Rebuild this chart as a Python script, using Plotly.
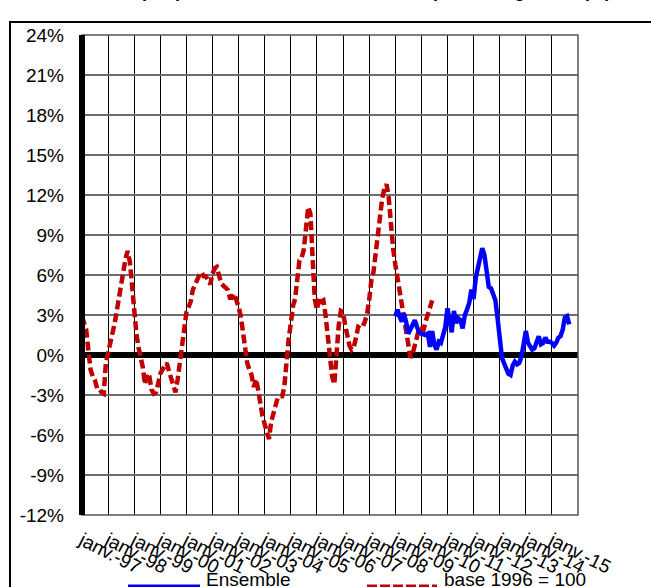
import pandas as pd
import plotly.graph_objects as go

# ---- data ----
red_start = "1997-01-01"
red_values = [
    2.9, 2.3, 1.9, 0.3, -1.1, -1.6, -1.9, -2.5, -2.5, -2.8, -2.9, -0.6,
    0.3, 0.9, 1.6, 2.3, 3.3, 4.2, 4.9, 6.1, 7.2, 7.8, 7.0, 5.3,
    3.2, 1.6, 0.6, -0.2, -0.9, -2.2, -1.4, -1.6, -2.6, -2.9, -2.8, -2.2,
    -1.4, -1.1, -0.8, -0.6, -1.2, -1.8, -2.4, -2.8, -1.8, -0.6, 0.8, 2.3,
    3.2, 3.6, 4.0, 4.9, 5.3, 5.6, 6.0, 6.2, 5.9, 5.9, 5.6, 5.3,
    6.1, 6.5, 6.6, 5.8, 5.4, 5.2, 5.0, 4.9, 4.3, 4.3, 4.6, 4.2,
    3.6, 2.9, 1.6, 0.3, -0.6, -1.1, -1.5, -2.4, -1.8, -2.6, -3.7, -4.6,
    -5.2, -5.7, -6.3, -5.0, -4.3, -3.6, -3.2, -3.1, -3.1, -2.4, -0.2, 1.2,
    2.4, 3.7, 4.2, 5.6, 7.1, 7.3, 7.9, 9.5, 11.1, 10.6, 6.9, 4.2,
    3.4, 4.3, 4.0, 4.1, 3.0, 1.6, 0.2, -1.6, -2.2, 0.6, 2.2, 3.3,
    3.2, 2.2, 1.3, 0.7, 0.4, 0.6, 1.3, 2.1, 2.0, 2.1, 2.5, 3.0,
    4.1, 5.6, 6.2, 7.6, 9.4, 10.5, 11.7, 12.5, 12.8, 11.8, 9.6, 8.0,
    6.8, 5.8, 5.2, 4.2, 3.2, 2.0, 0.8, -0.2, 0.1, 0.7, 1.1, 2.0,
    2.0, 1.9, 2.5, 3.0, 3.4, 4.1,
]
blue_start = "2009-01-01"
blue_values = [
    2.9, 3.4, 2.9, 2.5, 3.1, 2.5, 1.6, 2.0, 2.2, 2.6, 2.1, 1.7,
    1.6, 1.5, 1.5, 1.6, 0.6, 1.8, 0.8, 0.4, 1.0, 0.9, 1.5, 2.1,
    3.5, 2.5, 1.7, 3.3, 2.4, 2.75, 2.6, 2.0, 3.0, 3.4, 3.9, 4.9,
    4.2, 5.8, 6.5, 7.2, 8.0, 7.5, 6.3, 5.1, 5.0, 4.6, 4.1, 2.8,
    0.8, -0.2, -0.6, -1.0, -1.4, -1.5, -0.8, -0.5, -0.7, -0.6, -0.1, 0.8,
    1.8, 0.9, 0.6, 0.4, 0.5, 0.9, 1.4, 0.8, 0.9, 1.3, 1.0, 1.0,
    0.9, 0.7, 0.9, 1.3, 1.4, 1.9, 2.8, 2.9, 2.3,
]
tick_years = list(range(1997, 2017))
tick_labels = ["janv.-%02d" % (y % 100) for y in range(1997, 2016)] + [""]
y_ticks = list(range(-12, 25, 3))
legend_names = ["Ensemble", "base 1996 = 100"]
title_text = "Graphique 3 : Évolution annuelle des prix du logement (%)"

red_x = pd.date_range(red_start, periods=len(red_values), freq="MS")
blue_x = pd.date_range(blue_start, periods=len(blue_values), freq="MS")

W, H = 651, 587
L, R, T, B = 82, 73, 35, 72
PW, PH = W - L - R, H - T - B


def px(xp):
    return (xp - L) / PW


def py(yp):
    return (H - B - yp) / PH


FONT = "Liberation Sans, Arial, sans-serif"
RED = "#C00000"
BLUE = "#0000FF"

fig = go.Figure()
fig.add_trace(go.Scatter(x=red_x, y=red_values, mode="lines", name=legend_names[1],
                         line=dict(color=RED, width=4.5, dash="9px,4px"), showlegend=False))
fig.add_trace(go.Scatter(x=blue_x, y=blue_values, mode="lines", name=legend_names[0],
                         line=dict(color=BLUE, width=4.5), showlegend=False))

shapes = [
    # plot-area border
    dict(type="rect", xref="paper", yref="paper", x0=0, x1=1, y0=0, y1=1,
         line=dict(color="#555555", width=1.5), layer="above"),
    # thick left axis
    dict(type="line", xref="paper", yref="paper", x0=0, x1=0, y0=0, y1=1,
         line=dict(color="black", width=6), layer="above"),
    # outer frame
    dict(type="rect", xref="paper", yref="paper", x0=px(10), x1=px(653), y0=py(600), y1=py(22),
         line=dict(color="black", width=2)),
    # legend samples
    dict(type="line", xref="paper", yref="paper", x0=px(128), x1=px(200), y0=py(587), y1=py(587),
         line=dict(color=BLUE, width=5)),
    dict(type="line", xref="paper", yref="paper", x0=px(367), x1=px(437), y0=py(587), y1=py(587),
         line=dict(color=RED, width=5, dash="10px,3px")),
]

annotations = [
    dict(text=title_text, xref="paper", yref="paper", x=px(613), y=py(2.5),
         xanchor="right", yanchor="bottom", showarrow=False,
         font=dict(family=FONT, size=18, color="black", weight="bold")),
    dict(text=legend_names[0], xref="paper", yref="paper", x=px(204), y=py(567),
         xanchor="left", yanchor="top", showarrow=False,
         font=dict(family=FONT, size=19, color="black")),
    dict(text=legend_names[1], xref="paper", yref="paper", x=px(442), y=py(567),
         xanchor="left", yanchor="top", showarrow=False,
         font=dict(family=FONT, size=19, color="black")),
]

fig.update_layout(
    width=W, height=H,
    margin=dict(l=L, r=R, t=T, b=B, pad=0),
    paper_bgcolor="white", plot_bgcolor="white",
    shapes=shapes, annotations=annotations,
    showlegend=False,
)
fig.update_xaxes(
    type="date",
    range=[pd.Timestamp("1997-01-01"), pd.Timestamp("2016-01-01")],
    tickvals=[pd.Timestamp("%d-01-01" % y) for y in tick_years],
    ticktext=tick_labels,
    tickangle=27,
    tickfont=dict(family=FONT, size=19, color="black"),
    showgrid=True, gridcolor="black", gridwidth=1,
    zeroline=False, showline=False, ticks="",
    ticklabelstandoff=10,
    automargin=False,
)
fig.update_yaxes(
    range=[-12, 24],
    tickvals=y_ticks,
    ticktext=["%d%%" % v for v in y_ticks],
    tickfont=dict(family=FONT, size=19, color="black"),
    showgrid=True, gridcolor="#6e6e6e", gridwidth=1.5,
    zeroline=True, zerolinecolor="black", zerolinewidth=6,
    showline=False, ticks="",
    ticklabelstandoff=17,
    automargin=False,
)

fig.write_html("out.html", config={"displayModeBar": False},
               post_script="document.body.style.margin='0';")
